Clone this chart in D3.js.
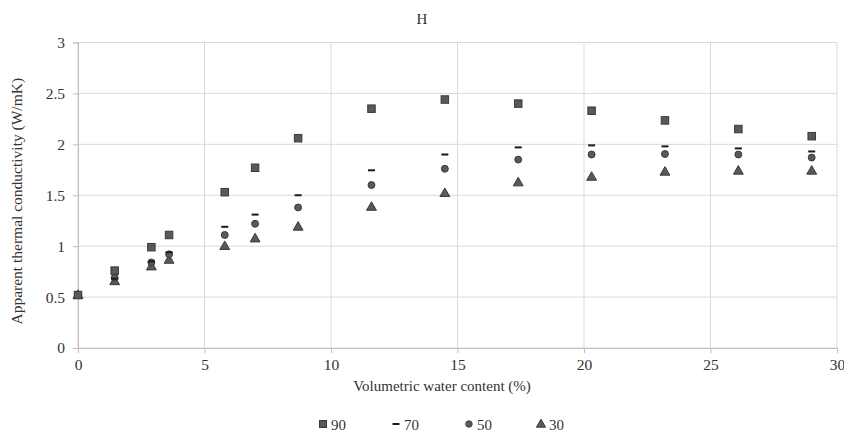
<!DOCTYPE html>
<html><head><meta charset="utf-8">
<script src="https://cdn.jsdelivr.net/npm/d3@7"></script>
<style>body{margin:0;background:#fff}svg{display:block}text{font-family:"Liberation Serif","Times New Roman",serif;fill:#333}</style>
</head><body><svg id="c" width="844" height="435"></svg>
<script>
const xValues = [0, 1.45, 2.9, 3.6, 5.8, 7.0, 8.7, 11.6, 14.5, 17.4, 20.3, 23.2, 26.1, 29.0];
const s90 = [0.52, 0.76, 0.99, 1.11, 1.53, 1.77, 2.06, 2.35, 2.44, 2.40, 2.33, 2.235, 2.15, 2.08];
const s70 = [0.52, 0.68, 0.85, 0.94, 1.19, 1.31, 1.50, 1.745, 1.90, 1.97, 1.99, 1.98, 1.96, 1.93];
const s50 = [0.52, 0.69, 0.84, 0.92, 1.11, 1.22, 1.38, 1.60, 1.76, 1.85, 1.90, 1.905, 1.90, 1.87];
const s30 = [0.52, 0.655, 0.80, 0.865, 1.00, 1.075, 1.19, 1.385, 1.52, 1.625, 1.68, 1.73, 1.74, 1.74];
const seriesNames = ["90", "70", "50", "30"];
const seriesShapes = ["square", "dash", "circle", "triangle"];
const xTicks = [0, 5, 10, 15, 20, 25, 30];
const yTicks = [0, 0.5, 1, 1.5, 2, 2.5, 3];
const chartTitle = "H";
const xTitle = "Volumetric water content (%)";
const yTitle = "Apparent thermal conductivity (W/mK)";

const series = [s90, s70, s50, s30].map((v, i) => ({name: seriesNames[i], shape: seriesShapes[i], values: v}));

const svg = d3.select("#c");
const m = {l: 78, r: 7, t: 42.5, b: 87};
const W = 844, H = 435;
const x = d3.scaleLinear().domain([0, 30]).range([m.l, W - m.r]);
const y = d3.scaleLinear().domain([0, 3]).range([H - m.b, m.t]);

const grid = "#d9d9d9";
svg.append("g").selectAll("line").data(yTicks).join("line")
  .attr("x1", x(0)).attr("x2", x(30)).attr("y1", d => y(d)).attr("y2", d => y(d))
  .attr("stroke", grid).attr("stroke-width", 1);
svg.append("g").selectAll("line").data(xTicks).join("line")
  .attr("y1", y(0)).attr("y2", y(3)).attr("x1", d => x(d)).attr("x2", d => x(d))
  .attr("stroke", grid).attr("stroke-width", 1);

const xa = svg.append("g").attr("transform", `translate(0,${y(0)})`)
  .call(d3.axisBottom(x).tickValues(xTicks).tickSize(5).tickPadding(6).tickFormat(d3.format("d")));
const ya = svg.append("g").attr("transform", `translate(${x(0)},0)`)
  .call(d3.axisLeft(y).tickValues(yTicks).tickSize(5).tickPadding(8).tickFormat(d => String(d)));
[xa, ya].forEach(a => {
  a.select(".domain").attr("stroke", "#bfbfbf");
  a.selectAll(".tick line").attr("stroke", "#bfbfbf");
  a.selectAll("text").attr("font-size", 15.5).attr("fill", "#333").attr("font-family", "Liberation Serif, serif");
});

svg.append("text").attr("x", 422).attr("y", 24).attr("text-anchor", "middle").attr("font-size", 15).text(chartTitle);
svg.append("text").attr("x", 442).attr("y", 391).attr("text-anchor", "middle").attr("font-size", 15).text(xTitle);
svg.append("text").attr("transform", `translate(22,${(y(0) + y(3)) / 2 + 6}) rotate(-90)`)
  .attr("text-anchor", "middle").attr("font-size", 15.5).text(yTitle);

const fillC = "#595959", strokeC = "#3a3a3a";
function drawMarker(g, shape, size) {
  if (shape === "square") {
    g.append("rect").attr("x", -size/2).attr("y", -size/2).attr("width", size).attr("height", size)
      .attr("fill", fillC).attr("stroke", strokeC).attr("stroke-width", 1);
  } else if (shape === "dash") {
    g.append("rect").attr("x", -3.5).attr("y", -1).attr("width", 7).attr("height", 2).attr("fill", "#1a1a1a");
  } else if (shape === "circle") {
    g.append("circle").attr("r", size/2 - 0.3).attr("fill", fillC).attr("stroke", strokeC).attr("stroke-width", 1);
  } else {
    g.append("path").attr("d", d3.symbol(d3.symbolTriangle, size*size*0.75)()).attr("transform", "translate(0,0.5)")
      .attr("fill", fillC).attr("stroke", strokeC).attr("stroke-width", 1);
  }
}

[...series].reverse().forEach(s => {
  const g = svg.append("g");
  s.values.forEach((v, i) => {
    const mg = g.append("g").attr("transform", `translate(${x(xValues[i])},${y(v)})`);
    drawMarker(mg, s.shape, 7.5);
  });
});

const legX = [323, 396, 469, 541];
series.forEach((s, i) => {
  const lg = svg.append("g").attr("transform", `translate(${legX[i]},${424})`);
  drawMarker(lg.append("g"), s.shape, 7);
  lg.append("text").attr("x", 8).attr("y", 5.5).attr("font-size", 15).text(s.name);
});
</script></body></html>
